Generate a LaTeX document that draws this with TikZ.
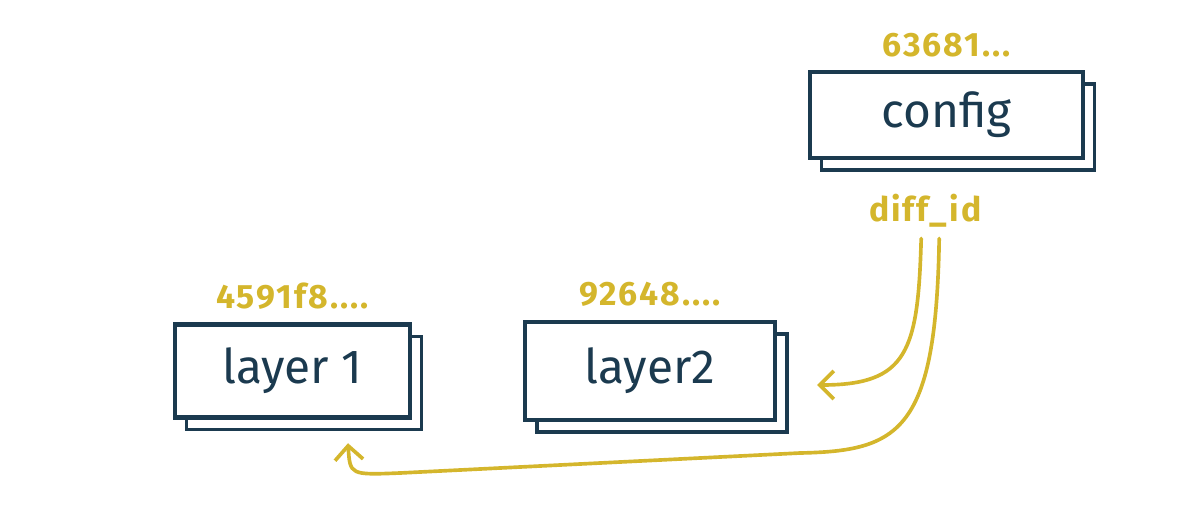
\documentclass[tikz,border=0pt]{standalone}
\usepackage{fontspec}
\setmainfont{Fira Sans}
\newfontfamily\hashfont[LetterSpace=6]{Fira Sans}
\usetikzlibrary{shadows,arrows.meta}
\definecolor{navy}{HTML}{1B3A4F}
\definecolor{mustard}{HTML}{D4B62C}
\tikzset{
	blob/.style={draw=navy, line width=3pt, fill=white, text=navy, font=\fontsize{34}{38}\selectfont,
		copy shadow={shadow xshift=0.3cm, shadow yshift=-0.3cm, draw=navy, line width=2.2pt, fill=white}},
	hash/.style={text=mustard, font=\hashfont\bfseries\fontsize{24}{28}\selectfont},
	link/.style={draw=mustard, line width=2.6pt, line cap=round, ->, >={Straight Barb[length=10pt,width=20pt]}}
}
\begin{document}
\begin{tikzpicture}
				\useasboundingbox (0,0) rectangle (30,12.775);
				\node[blob, minimum width=6.825cm, minimum height=2.15cm, label={[hash, label distance=0.2cm]above:63681...}] (config)at(23.66, 9.9) {config};
				\node[blob, minimum width=5.875cm, minimum height=2.325cm, label={[hash, label distance=0.2cm]above:4591f8....}] (layer1)at(7.31, 3.5) {layer 1};
				\node[blob, minimum width=6.25cm, minimum height=2.45cm, label={[hash, label distance=0.2cm]above:92648....}] (layer2)at(16.25, 3.5) {layer2};
				\node[hash] (diffid)at(23.13, 7.5) {diff\_id};
				\draw[link] ([xshift=-0.1cm, yshift=-0.15cm]diffid.south) .. controls (22.95, 4.0) and (22.7, 3.15) .. ([xshift=1.0cm, yshift=-0.35cm]layer2.east);
				\draw[link] ([xshift=0.35cm, yshift=-0.15cm]diffid.south) .. controls (23.4, 2.0) and (22.5, 1.5) .. (20, 1.45) -- (10, 0.95) .. controls (8.75, 0.9) .. ([xshift=1.39cm, yshift=-0.59cm]layer1.south);
			\end{tikzpicture}
\end{document}
